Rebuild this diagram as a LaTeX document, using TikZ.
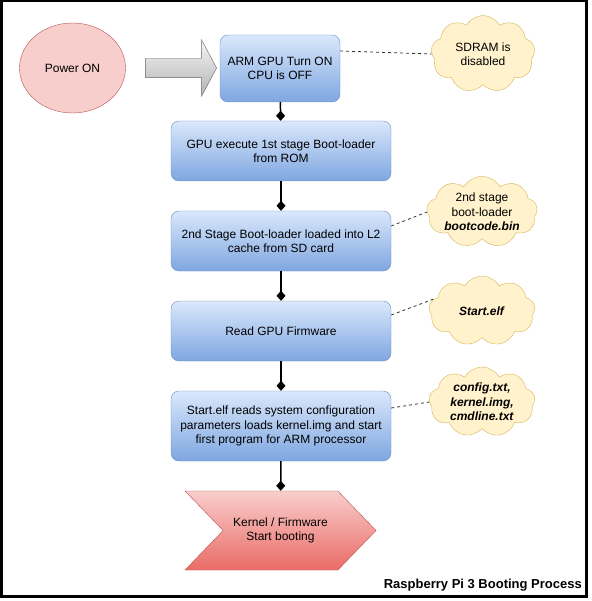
\documentclass[tikz,border=0pt]{standalone}
\usepackage{fontspec}
\setmainfont{Liberation Sans}
\usetikzlibrary{shapes.geometric,shapes.symbols,shapes.arrows,arrows.meta}
\definecolor{boxtop}{HTML}{DAE8FC}
\definecolor{boxbot}{HTML}{7EA6E0}
\definecolor{boxline}{HTML}{6C8EBF}
\definecolor{redfill}{HTML}{F8CECC}
\definecolor{redbot}{HTML}{EA6B66}
\definecolor{redline}{HTML}{B85450}
\definecolor{cloudfill}{HTML}{FFF2CC}
\definecolor{cloudline}{HTML}{D6B656}
\definecolor{arrowline}{HTML}{666666}

\begin{document}
\begin{tikzpicture}[x=1pt, y=-1pt,
    every node/.style={font=\fontsize{12}{14.5}\selectfont, align=center, inner sep=0pt},
    stepbox/.style={draw=boxline, rounded corners=8pt, top color=boxtop, bottom color=boxbot,
        minimum width=220pt, minimum height=60pt},
    note/.style={cloud, cloud puffs=9, cloud puff arc=120, cloud ignores aspect,
        draw=cloudline, fill=cloudfill, minimum width=106pt, minimum height=70pt},
    flow/.style={line width=1.5pt, -{Diamond[length=10pt,width=9pt]}},
    link/.style={draw=black!80, dash pattern=on 3pt off 3pt, line width=0.8pt}]
    \useasboundingbox (0,0) rectangle (591,601);
    \draw[line width=2.5pt] (1.25,1.25) rectangle (586.5,596.5);

    \node[ellipse, draw=redline, fill=redfill, minimum width=106pt, minimum height=90pt] (power) at (72.5,68) {Power ON};
    \node[single arrow, draw=arrowline, top color=white!96!black, bottom color=black!30,
        single arrow head extend=18.5pt, single arrow tip angle=124,
        minimum height=71pt] (onarrow) at (178.5,68) {\rule{0pt}{19pt}};

    \node[stepbox, minimum width=120pt, minimum height=67pt] (arm) at (280,68.5) {ARM GPU Turn ON\\CPU is OFF};
    \node[stepbox] (rom) at (281,151) {GPU execute 1st stage Boot-loader\\from ROM};
    \node[stepbox] (cache) at (281,241) {2nd Stage Boot-loader loaded into L2\\cache from SD card};
    \node[stepbox] (firmware) at (281,331) {Read GPU Firmware};
    \node[stepbox, minimum height=70pt] (config) at (281,426) {Start.elf reads system configuration\\parameters loads kernel.img and start\\first program for ARM processor};
    \node[signal, signal from=west, signal to=east, signal pointer angle=92,
        draw=redline, top color=redfill, bottom color=redbot,
        minimum width=191pt, minimum height=79pt] (kernel) at (280.5,530.5) {Kernel / Firmware\\Start booting};

    \node[note, minimum height=77pt, minimum width=104pt] (sdram) at (483,54) {SDRAM is\\disabled};
    \node[note] (bootcode) at (482,212) {2nd stage\\boot-loader\\\textbf{\textit{bootcode.bin}}};
    \node[note] (startelf) at (482,311) {\textbf{\textit{Start.elf}}};
    \node[note] (files) at (482,402) {\textbf{\textit{config.txt,}}\\\textbf{\textit{kernel.img,}}\\\textbf{\textit{cmdline.txt}}};

    \draw[flow] (arm) -- (rom);
    \draw[flow] (rom) -- (cache);
    \draw[flow] (cache) -- (firmware);
    \draw[flow] (firmware) -- (config);
    \draw[flow] (config) -- (kernel);

    \draw[link] ([yshift=17.5pt]arm.east) -- (sdram.west);
    \draw[link] ([yshift=15pt]cache.east) -- (bootcode.west);
    \draw[link] ([yshift=16pt]firmware.east) -- (startelf.165);
    \draw[link] ([yshift=18pt]config.east) -- (files.west);

    \node[anchor=east, font=\fontsize{13}{15}\selectfont\bfseries] (title) at (582,585) {Raspberry Pi 3 Booting Process};
\end{tikzpicture}
\end{document}
